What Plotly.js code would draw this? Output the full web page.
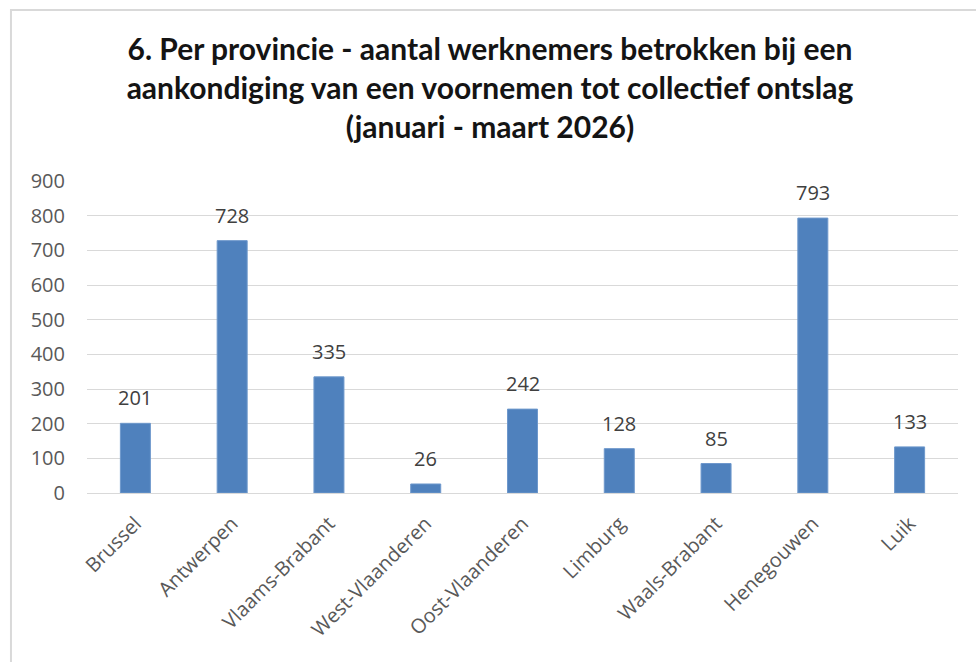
<!DOCTYPE html>
<html><head><meta charset="utf-8">
<script src="https://cdn.plot.ly/plotly-3.0.1.min.js"></script>
<style>html,body{margin:0;padding:0;background:#fff}#chart{width:976px;height:662px}</style>
</head><body><div id="chart"></div>
<script>
const provinces = ["Brussel","Antwerpen","Vlaams-Brabant","West-Vlaanderen","Oost-Vlaanderen","Limburg","Waals-Brabant","Henegouwen","Luik"];
const workers = [201,728,335,26,242,128,85,793,133];
const yTicks = [0,100,200,300,400,500,600,700,800,900];

const labelFont = "'Open Sans', 'DejaVu Sans', sans-serif";

const trace = {
  type: "bar",
  x: provinces,
  y: workers,
  marker: {color: "#4F81BD", line: {color: "#6E98CC", width: 1}},
  hoverinfo: "none"
};
const dataLabels = provinces.map((p, i) => ({
  x: p, y: workers[i], xref: "x", yref: "y",
  text: String(workers[i]), showarrow: false,
  yanchor: "bottom", yshift: 10,
  font: {family: labelFont, size: 20, color: "#404040"}
}));
const layout = {
  width: 976, height: 662,
  margin: {l: 87, r: 18, t: 181, b: 169},
  paper_bgcolor: "#fff", plot_bgcolor: "#fff",
  bargap: 0.69,
  showlegend: false,
  title: {
    text: "<b>6. Per provincie - aantal werknemers betrokken bij een<br>aankondiging van een voornemen tot collectief ontslag<br>(januari - maart 2026)</b>",
    x: 0.502, xanchor: "center", y: 0.91, yanchor: "top",
    font: {family: "Lato, 'Open Sans', sans-serif", size: 30, color: "#141414"}
  },
  xaxis: {
    type: "category",
    tickangle: -45,
    tickfont: {family: labelFont, size: 20, color: "#595959"},
    showline: true, linecolor: "#d9d9d9", linewidth: 1,
    ticks: "", showgrid: false, automargin: false,
    ticklabelstandoff: 10
  },
  yaxis: {
    range: [0, 900],
    tickvals: yTicks,
    ticktext: yTicks.map(String),
    tickfont: {family: labelFont, size: 20, color: "#595959"},
    showgrid: true, gridcolor: "#d9d9d9", gridwidth: 1,
    zeroline: false, showline: false, ticks: "",
    ticklabelstandoff: 21, automargin: false
  },
  annotations: dataLabels,
  shapes: [{
    type: "rect", xref: "paper", yref: "paper",
    x0: -0.0873, x1: 1.2, y0: -0.6, y1: 1.548,
    line: {color: "#d9d9d9", width: 2}, fillcolor: "rgba(0,0,0,0)", layer: "below"
  }]
};
Plotly.newPlot("chart", [trace], layout, {staticPlot: true, displayModeBar: false});
</script></body></html>
